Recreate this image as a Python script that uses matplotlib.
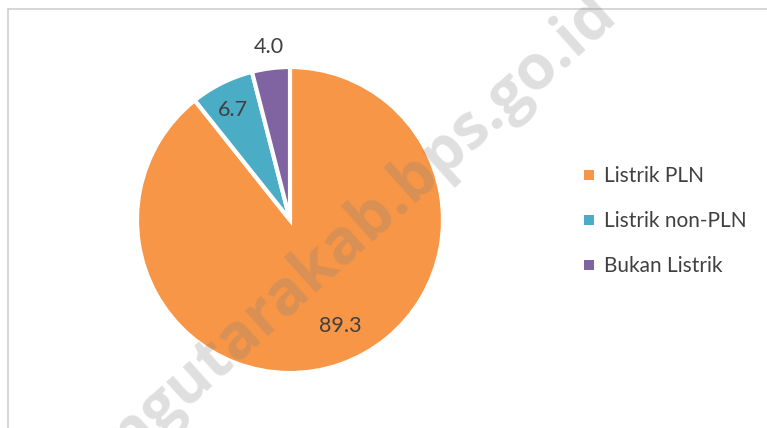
import matplotlib.pyplot as plt
from matplotlib.lines import Line2D

labels = ["Listrik PLN", "Listrik non-PLN", "Bukan Listrik"]
values = [89.3, 6.7, 4.0]
colors = ["#F79646", "#4BACC6", "#8064A2"]

plt.rcParams["font.family"] = ["Lato", "DejaVu Sans"]
text_color = "#404040"

W, H = 767, 428
fig = plt.figure(figsize=(W / 100, H / 100), dpi=100)

# pie placed by pixel position: centre (290, 220), radius 153
cx, cy, r = 290, 220, 153
ax = fig.add_axes([(cx - r) / W, (H - cy - r) / H, 2 * r / W, 2 * r / H])
wedges, _ = ax.pie(
    values,
    colors=colors,
    startangle=90,
    counterclock=False,
    wedgeprops=dict(edgecolor="white", linewidth=3),
)
ax.set_aspect("equal")
ax.set_xlim(-1, 1)
ax.set_ylim(-1, 1)

# data labels
label_pos = [(0.33, -0.69), (-0.37, 0.72), (-0.14, 1.13)]
for v, (lx, ly) in zip(values, label_pos):
    ax.text(lx, ly, f"{v:.1f}", ha="center", va="center", fontsize=15.5, color=text_color)

# legend
handles = [
    Line2D([], [], marker="s", linestyle="none", markersize=6.5, color=c, markeredgewidth=0)
    for c in colors
]
fig.legend(
    handles,
    labels,
    loc="center left",
    bbox_to_anchor=(564 / W, 1 - 221 / H),
    frameon=False,
    fontsize=15,
    labelcolor=text_color,
    handlelength=0.6,
    handletextpad=0.4,
    labelspacing=1.2,
)

# chart area border (top and left visible)
fig.add_artist(Line2D([8 / W, 1], [1 - 9 / H, 1 - 9 / H], color="#d0d0d0", linewidth=1.2))
fig.add_artist(Line2D([8 / W, 8 / W], [0, 1 - 9 / H], color="#d0d0d0", linewidth=1.2))

# watermark (cut by the image edges, as in the source)
fig.text(
    362 / W, 1 - 225 / H, "ngutarakab.bps.go.id",
    rotation=42, ha="center", va="center", fontsize=45, fontweight="bold",
    color=(0.5, 0.5, 0.5, 0.25), family=["Open Sans", "DejaVu Sans"],
)

fig.savefig("out.png", dpi=100, facecolor="white")
